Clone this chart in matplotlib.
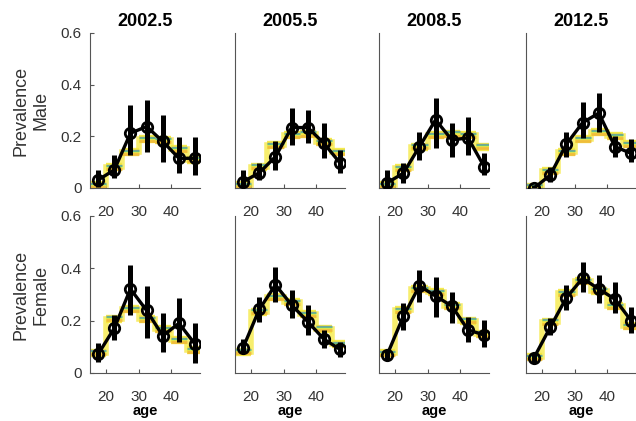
import matplotlib
matplotlib.use("Agg")
import matplotlib.pyplot as plt
import numpy as np

plt.rcParams['font.family'] = ['Liberation Sans', 'DejaVu Sans']

# age groups 15-19 ... 45-49
ages = [17.5, 22.5, 27.5, 32.5, 37.5, 42.5, 47.5]
edges = [15, 20, 25, 30, 35, 40, 45, 50]
years = ['2002.5', '2005.5', '2008.5', '2012.5']
row_labels = ['Prevalence\nMale', 'Prevalence\nFemale']

# observed prevalence (circles) with interval ends
male_obs = [[0.031, 0.07, 0.212, 0.238, 0.18, 0.115, 0.115],
            [0.024, 0.059, 0.121, 0.234, 0.234, 0.173, 0.096],
            [0.02, 0.057, 0.16, 0.264, 0.186, 0.194, 0.083],
            [0.0, 0.05, 0.17, 0.253, 0.29, 0.16, 0.134]]
male_lo = [[0.004, 0.039, 0.128, 0.141, 0.102, 0.057, 0.05],
           [0.005, 0.031, 0.07, 0.167, 0.173, 0.115, 0.057],
           [0.0, 0.02, 0.108, 0.155, 0.12, 0.128, 0.05],
           [0.0, 0.024, 0.121, 0.193, 0.218, 0.12, 0.1]]
male_hi = [[0.07, 0.128, 0.322, 0.341, 0.283, 0.199, 0.199],
           [0.07, 0.096, 0.18, 0.309, 0.302, 0.25, 0.147],
           [0.07, 0.095, 0.218, 0.35, 0.25, 0.275, 0.135],
           [0.01, 0.083, 0.218, 0.334, 0.367, 0.2, 0.19]]
# fitted model (steps)
male_model = [[0.012, 0.08, 0.14, 0.19, 0.185, 0.15, 0.11],
              [0.012, 0.083, 0.165, 0.205, 0.21, 0.178, 0.14],
              [0.012, 0.077, 0.16, 0.205, 0.21, 0.205, 0.16],
              [0.005, 0.065, 0.14, 0.19, 0.215, 0.2, 0.17]]

female_obs = [[0.072, 0.171, 0.321, 0.239, 0.142, 0.19, 0.11],
              [0.097, 0.243, 0.337, 0.26, 0.196, 0.129, 0.09],
              [0.069, 0.216, 0.333, 0.294, 0.256, 0.165, 0.145],
              [0.059, 0.175, 0.288, 0.362, 0.321, 0.282, 0.2]]
female_lo = [[0.043, 0.126, 0.222, 0.133, 0.082, 0.12, 0.037],
             [0.075, 0.196, 0.273, 0.209, 0.145, 0.094, 0.062],
             [0.05, 0.165, 0.273, 0.215, 0.19, 0.12, 0.1],
             [0.04, 0.145, 0.241, 0.311, 0.266, 0.228, 0.152]]
female_hi = [[0.113, 0.222, 0.413, 0.333, 0.228, 0.286, 0.19],
             [0.13, 0.292, 0.406, 0.318, 0.26, 0.164, 0.12],
             [0.087, 0.268, 0.394, 0.368, 0.31, 0.215, 0.203],
             [0.075, 0.209, 0.336, 0.425, 0.375, 0.349, 0.254]]
female_model = [[0.078, 0.208, 0.245, 0.205, 0.168, 0.125, 0.088],
                [0.082, 0.235, 0.29, 0.27, 0.225, 0.17, 0.11],
                [0.075, 0.24, 0.32, 0.31, 0.255, 0.2, 0.15],
                [0.06, 0.196, 0.305, 0.35, 0.315, 0.255, 0.18]]

# extra horizontal traces over the yellow steps: colour, offset, width, alpha
trace_styles = [('#eeb33a', -0.007, 2.0, 0.8),
                ('#35b79b', 0.005, 1.0, 0.7),
                ('#2a7fc9', 0.009, 1.0, 0.6)]

W, H = 636, 421
fig = plt.figure(figsize=(W / 100, H / 100), dpi=100)

col_left = [90, 235, 379, 526]
row_box = [(33, 188), (216, 373)]
ax_w = 110

data = [(male_obs, male_lo, male_hi, male_model),
        (female_obs, female_lo, female_hi, female_model)]

for r in range(2):
    top, bot = row_box[r]
    obs, lo, hi, model = data[r]
    for c in range(4):
        ax = fig.add_axes([col_left[c] / W, 1 - bot / H, ax_w / W, (bot - top) / H])
        m = np.array(model[c])
        ax.stairs(m, edges, baseline=None, color='#f6ea4a', lw=4, alpha=0.8, zorder=2)
        ax.hlines(m, edges[:-1], edges[1:], color='#f6e83a', lw=6, alpha=0.9, zorder=2)
        for col, off, lw, a in trace_styles:
            ax.hlines(m + off, edges[:-1], edges[1:], color=col, lw=lw, alpha=a, zorder=2)
        ax.vlines(ages, lo[c], hi[c], color='black', lw=3.6, zorder=3)
        ax.plot(ages, obs[c], color='black', lw=2.4, marker='o', ms=7.5,
                mfc='none', mec='black', mew=2, zorder=4)

        ax.set_xlim(15, 49)
        ax.set_ylim(0, 0.6)
        ax.set_xticks([20, 30, 40])
        for s in ['top', 'right']:
            ax.spines[s].set_visible(False)
        for s in ['left', 'bottom']:
            ax.spines[s].set_color('#555555')
            ax.spines[s].set_linewidth(0.8)
        ax.tick_params(direction='in', length=3, width=0.8, colors='#555555',
                       labelcolor='#333333', labelsize=11)
        ax.tick_params(axis='x', pad=12)
        ax.tick_params(axis='y', pad=6)
        ax.set_xlabel('age', fontsize=10.5, fontweight='bold', labelpad=0)
        if c == 0:
            ax.set_yticks([0, 0.2, 0.4, 0.6])
            ax.set_yticklabels(['0', '0.2', '0.4', '0.6'])
            ax.set_ylabel(row_labels[r], fontsize=13, color='#333333', labelpad=8)
        else:
            ax.set_yticks([])
        if r == 0:
            ax.set_title(years[c], fontsize=13, fontweight='bold', pad=5)

fig.savefig('out.png', dpi=100)
